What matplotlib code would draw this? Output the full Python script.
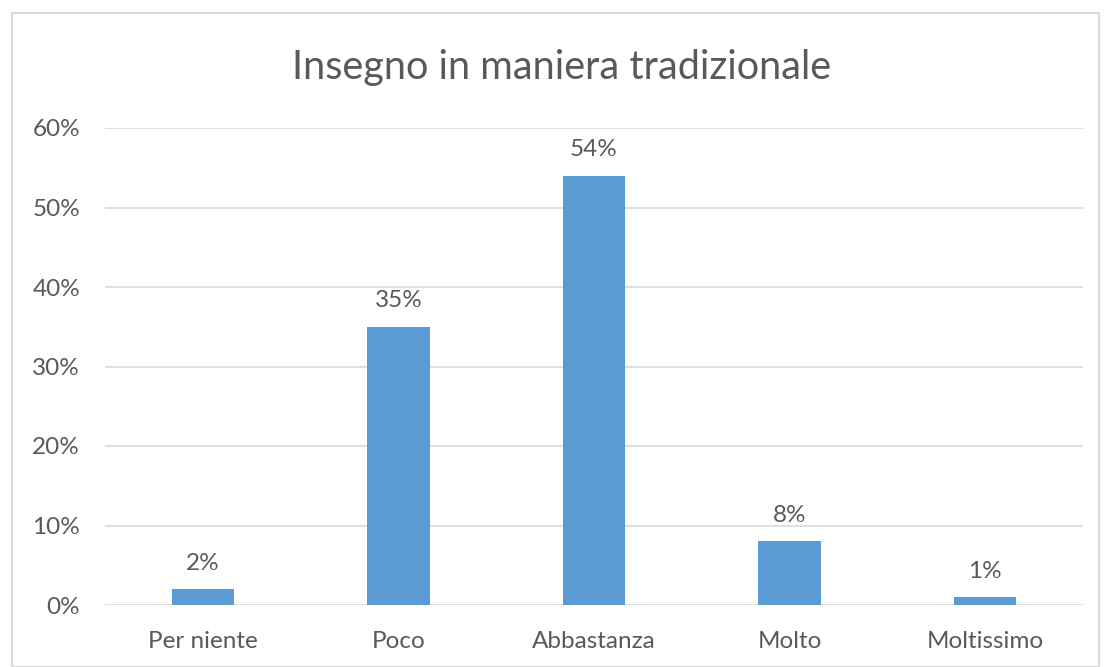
import matplotlib
matplotlib.use("Agg")
import matplotlib.pyplot as plt
from matplotlib.patches import Rectangle
from matplotlib.ticker import FuncFormatter

categories = ["Per niente", "Poco", "Abbastanza", "Molto", "Moltissimo"]
values = [2, 35, 54, 8, 1]
title = "Insegno in maniera tradizionale"
yticks = [0, 10, 20, 30, 40, 50, 60]

plt.rcParams['font.family'] = ['Lato', 'DejaVu Sans']
txt = '#595959'

fig = plt.figure(figsize=(11.04, 6.67), dpi=100)
fig.patches.append(Rectangle((12/1104, 0), (1099-12)/1104, (667-13)/667,
                             transform=fig.transFigure, fill=False,
                             edgecolor='#D9D9D9', linewidth=1.5))
ax = fig.add_axes([105/1104, 62/667, (1083-105)/1104, (605-128)/667])

x = range(len(categories))
ax.bar(x, values, width=0.32, color='#5B9BD5', zorder=3)
for xi, v in zip(x, values):
    ax.annotate(f"{v}%", (xi, v), xytext=(0, 11), textcoords='offset points',
                ha='center', va='bottom', fontsize=17.5, color=txt)

ax.set_xlim(-0.5, len(categories) - 0.5)
ax.set_ylim(0, 60)
ax.set_yticks(yticks)
ax.yaxis.set_major_formatter(FuncFormatter(lambda v, p: f"{int(v)}%"))
ax.set_xticks(list(x))
ax.set_xticklabels(categories)
ax.tick_params(axis='both', length=0, labelsize=17.5, colors=txt)
ax.tick_params(axis='y', pad=18)
ax.tick_params(axis='x', pad=19)
ax.grid(axis='y', color='#D9D9D9', linewidth=1.2, zorder=0)
for s in ax.spines.values():
    s.set_visible(False)

fig.text(562/1104, 1 - 68/667, title, ha='center', va='center', fontsize=28.5, color=txt)

fig.savefig("out.png", dpi=100)
